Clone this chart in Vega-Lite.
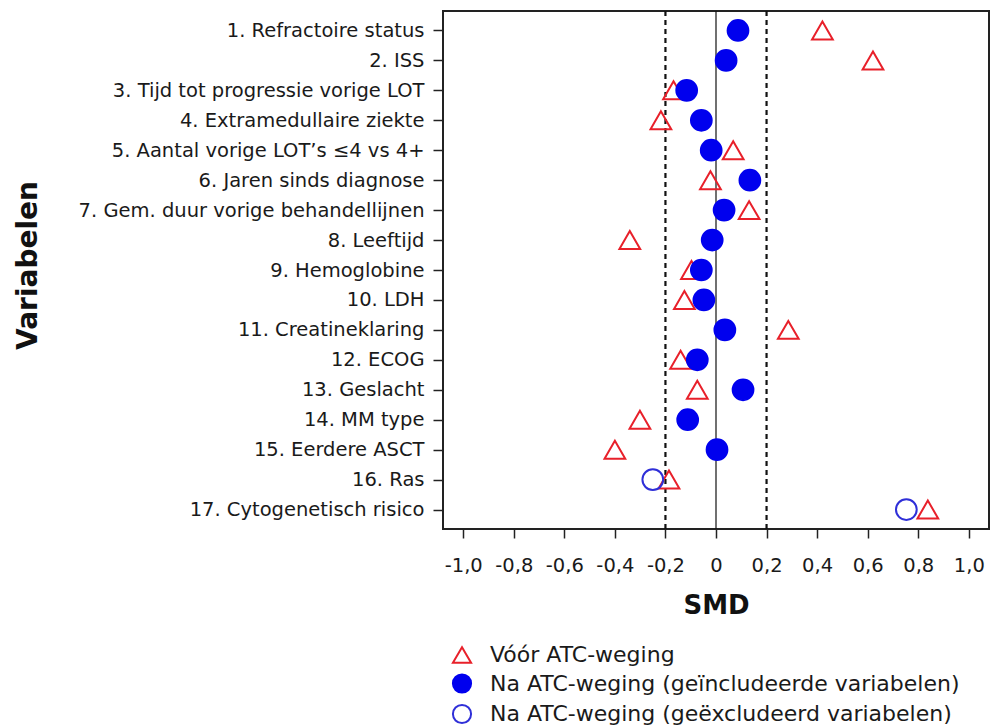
{
  "$schema": "https://vega.github.io/schema/vega-lite/v6.json",
  "autosize": {"type": "none"},
  "padding": {"left": 443, "top": 11, "right": 5, "bottom": 197},
  "width": 546,
  "height": 518,
  "background": "white",
  "config": {
    "font": "DejaVu Sans",
    "view": {"stroke": "#222", "strokeWidth": 2}
  },
  "layer": [
    {
      "data": {"values": [{"ref": 0}]},
      "mark": {"type": "rule", "color": "#111", "strokeWidth": 1.2},
      "encoding": {"x": {"field": "ref", "type": "quantitative", "scale": {"domain": [-1.08, 1.08], "nice": false, "zero": false}}}
    },
    {
      "data": {"values": [{"ref": -0.2}, {"ref": 0.2}]},
      "mark": {"type": "rule", "color": "#111", "strokeWidth": 2.2, "strokeDash": [5, 4]},
      "encoding": {"x": {"field": "ref", "type": "quantitative"}}
    },
    {
      "data": {"values": [
        {"var": "1. Refractoire status", "series": "Vóór ATC-weging", "smd": 0.421},
        {"var": "1. Refractoire status", "series": "Na ATC-weging (geïncludeerde variabelen)", "smd": 0.087},
        {"var": "2. ISS", "series": "Vóór ATC-weging", "smd": 0.621},
        {"var": "2. ISS", "series": "Na ATC-weging (geïncludeerde variabelen)", "smd": 0.040},
        {"var": "3. Tijd tot progressie vorige LOT", "series": "Vóór ATC-weging", "smd": -0.168},
        {"var": "3. Tijd tot progressie vorige LOT", "series": "Na ATC-weging (geïncludeerde variabelen)", "smd": -0.116},
        {"var": "4. Extramedullaire ziekte", "series": "Vóór ATC-weging", "smd": -0.218},
        {"var": "4. Extramedullaire ziekte", "series": "Na ATC-weging (geïncludeerde variabelen)", "smd": -0.058},
        {"var": "5. Aantal vorige LOT’s ≤4 vs 4+", "series": "Vóór ATC-weging", "smd": 0.068},
        {"var": "5. Aantal vorige LOT’s ≤4 vs 4+", "series": "Na ATC-weging (geïncludeerde variabelen)", "smd": -0.019},
        {"var": "6. Jaren sinds diagnose", "series": "Vóór ATC-weging", "smd": -0.022},
        {"var": "6. Jaren sinds diagnose", "series": "Na ATC-weging (geïncludeerde variabelen)", "smd": 0.134},
        {"var": "7. Gem. duur vorige behandellijnen", "series": "Vóór ATC-weging", "smd": 0.131},
        {"var": "7. Gem. duur vorige behandellijnen", "series": "Na ATC-weging (geïncludeerde variabelen)", "smd": 0.032},
        {"var": "8. Leeftijd", "series": "Vóór ATC-weging", "smd": -0.341},
        {"var": "8. Leeftijd", "series": "Na ATC-weging (geïncludeerde variabelen)", "smd": -0.015},
        {"var": "9. Hemoglobine", "series": "Vóór ATC-weging", "smd": -0.097},
        {"var": "9. Hemoglobine", "series": "Na ATC-weging (geïncludeerde variabelen)", "smd": -0.058},
        {"var": "10. LDH", "series": "Vóór ATC-weging", "smd": -0.125},
        {"var": "10. LDH", "series": "Na ATC-weging (geïncludeerde variabelen)", "smd": -0.048},
        {"var": "11. Creatineklaring", "series": "Vóór ATC-weging", "smd": 0.286},
        {"var": "11. Creatineklaring", "series": "Na ATC-weging (geïncludeerde variabelen)", "smd": 0.035},
        {"var": "12. ECOG", "series": "Vóór ATC-weging", "smd": -0.140},
        {"var": "12. ECOG", "series": "Na ATC-weging (geïncludeerde variabelen)", "smd": -0.074},
        {"var": "13. Geslacht", "series": "Vóór ATC-weging", "smd": -0.074},
        {"var": "13. Geslacht", "series": "Na ATC-weging (geïncludeerde variabelen)", "smd": 0.107},
        {"var": "14. MM type", "series": "Vóór ATC-weging", "smd": -0.301},
        {"var": "14. MM type", "series": "Na ATC-weging (geïncludeerde variabelen)", "smd": -0.112},
        {"var": "15. Eerdere ASCT", "series": "Vóór ATC-weging", "smd": -0.400},
        {"var": "15. Eerdere ASCT", "series": "Na ATC-weging (geïncludeerde variabelen)", "smd": 0.004},
        {"var": "16. Ras", "series": "Vóór ATC-weging", "smd": -0.186},
        {"var": "16. Ras", "series": "Na ATC-weging (geëxcludeerd variabelen)", "smd": -0.250},
        {"var": "17. Cytogenetisch risico", "series": "Vóór ATC-weging", "smd": 0.838},
        {"var": "17. Cytogenetisch risico", "series": "Na ATC-weging (geëxcludeerd variabelen)", "smd": 0.753}
      ]},
      "mark": {"type": "point", "size": 430, "strokeWidth": 2, "opacity": 1},
      "encoding": {
        "x": {
          "field": "smd", "type": "quantitative",
          "scale": {"domain": [-1.08, 1.08], "nice": false, "zero": false},
          "axis": {
            "title": "SMD",
            "values": [-1, -0.8, -0.6, -0.4, -0.2, 0, 0.2, 0.4, 0.6, 0.8, 1],
            "labelExpr": "datum.value == 0 ? '0' : replace(replace(format(datum.value, '.1f'), '.', ','), '−', '-')",
            "domain": false,
            "grid": false,
            "ticks": true, "tickSize": 9, "tickColor": "#222", "tickWidth": 1.5,
            "labelFont": "DejaVu Sans", "labelFontSize": 19.5, "labelColor": "#1a1a1a", "labelPadding": 18,
            "titleFont": "DejaVu Sans", "titleFontSize": 26, "titleFontWeight": "bold", "titleColor": "#111", "titlePadding": 18
          }
        },
        "y": {
          "field": "var", "type": "nominal", "sort": null,
          "scale": {"type": "point", "padding": 0.65},
          "axis": {
            "title": "Variabelen",
            "domain": false, "grid": false,
            "ticks": true, "tickSize": 10, "tickColor": "#222", "tickWidth": 1.5,
            "labelFont": "DejaVu Sans", "labelFontSize": 19.5, "labelColor": "#1a1a1a", "labelPadding": 9,
            "labelLimit": 500,
            "titleFont": "DejaVu Sans", "titleFontSize": 28, "titleFontWeight": "bold", "titleColor": "#111",
            "titleX": -401, "titleY": 254
          }
        },
        "shape": {
          "field": "series", "type": "nominal",
          "scale": {
            "domain": ["Vóór ATC-weging", "Na ATC-weging (geïncludeerde variabelen)", "Na ATC-weging (geëxcludeerd variabelen)"],
            "range": ["triangle-up", "circle", "circle"]
          },
          "legend": {
            "title": null, "orient": "none", "legendX": 8, "legendY": 633,
            "labelFont": "DejaVu Sans", "labelFontSize": 22, "labelColor": "#1a1a1a",
            "symbolSize": 330, "symbolStrokeWidth": 2, "rowPadding": 2.5, "labelOffset": 17, "padding": 0, "labelLimit": 600
          }
        },
        "stroke": {
          "field": "series", "type": "nominal",
          "scale": {
            "domain": ["Vóór ATC-weging", "Na ATC-weging (geïncludeerde variabelen)", "Na ATC-weging (geëxcludeerd variabelen)"],
            "range": ["#e8202a", "#0000ee", "#2f2fd8"]
          },
          "legend": {
            "title": null, "orient": "none", "legendX": 8, "legendY": 633,
            "labelFont": "DejaVu Sans", "labelFontSize": 22, "labelColor": "#1a1a1a",
            "symbolSize": 330, "symbolStrokeWidth": 2, "rowPadding": 2.5, "labelOffset": 17, "padding": 0, "labelLimit": 600
          }
        },
        "fill": {
          "field": "series", "type": "nominal",
          "scale": {
            "domain": ["Vóór ATC-weging", "Na ATC-weging (geïncludeerde variabelen)", "Na ATC-weging (geëxcludeerd variabelen)"],
            "range": ["transparent", "#0000ee", "transparent"]
          },
          "legend": {
            "title": null, "orient": "none", "legendX": 8, "legendY": 633,
            "labelFont": "DejaVu Sans", "labelFontSize": 22, "labelColor": "#1a1a1a",
            "symbolSize": 330, "symbolStrokeWidth": 2, "rowPadding": 2.5, "labelOffset": 17, "padding": 0, "labelLimit": 600
          }
        }
      }
    }
  ]
}
